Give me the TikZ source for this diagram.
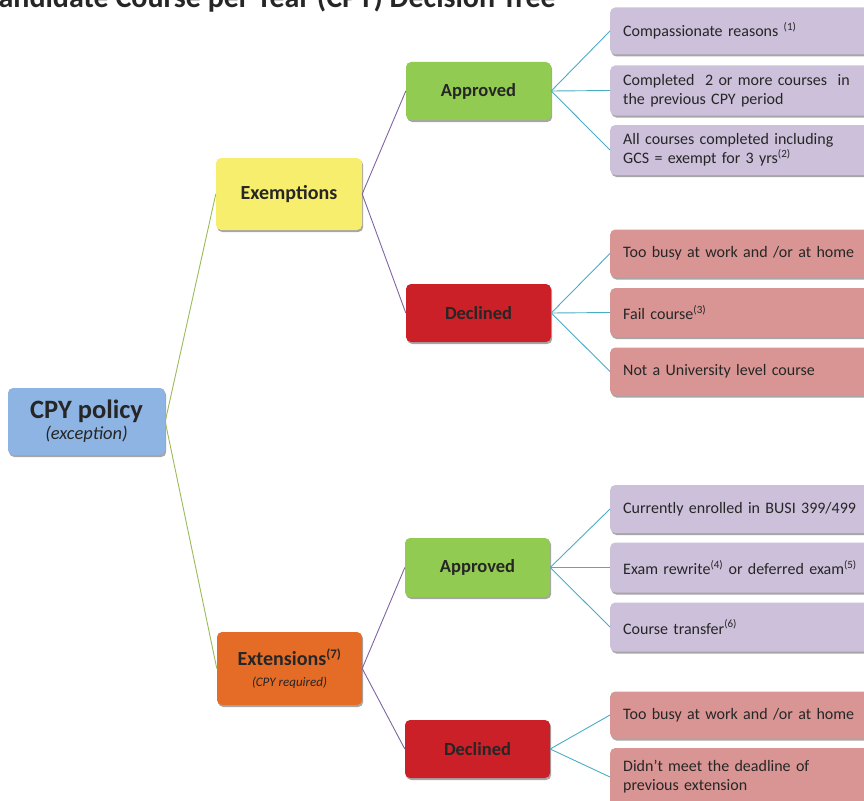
\documentclass[tikz,border=0pt]{standalone}
\usepackage{fontspec}
\setmainfont{Carlito}
\usetikzlibrary{shadows}
\definecolor{cblue}{HTML}{8EB4E3}
\definecolor{cyellow}{HTML}{F6EE6C}
\definecolor{corange}{HTML}{E46C26}
\definecolor{cgreen}{HTML}{92CB52}
\definecolor{cred}{HTML}{CB2027}
\definecolor{cpurple}{HTML}{CCC0DA}
\definecolor{cpink}{HTML}{D99594}
\definecolor{lgreen}{HTML}{9BBB59}
\definecolor{lpurple}{HTML}{8064A2}
\definecolor{lteal}{HTML}{4BACC6}
\definecolor{ctext}{HTML}{262626}
\tikzset{
  box/.style={rounded corners=5pt, inner sep=0pt, text=ctext, align=center,
    drop shadow={shadow xshift=1.2pt, shadow yshift=-2pt, opacity=0.35, fill=black}},
  mid/.style={box, minimum width=145pt, minimum height=58pt, font=\fontsize{18.5}{22}\selectfont\bfseries},
  leaf/.style={box, anchor=west, align=left, text width=320pt, inner xsep=13pt,
    font=\fontsize{16}{19}\selectfont},
  pleaf/.style={leaf, fill=cpurple},
  rleaf/.style={leaf, fill=cpink},
  gline/.style={draw=lgreen, line width=0.9pt},
  pline/.style={draw=lpurple, line width=0.9pt},
  tline/.style={draw=lteal, line width=0.9pt},
}
\newcommand{\sx}[1]{\textsuperscript{\fontsize{11}{11}\selectfont #1}}
\begin{document}
\begin{tikzpicture}[x=1pt, y=-1pt]
\useasboundingbox (0,0) rectangle (864,800);
\clip (0,0) rectangle (864,800);

\node[anchor=base east, font=\fontsize{30}{34}\selectfont\bfseries, text=ctext, inner sep=0pt] (title) at (556,8) {Candidate Course per Year (CPY) Decision Tree};

\node[box, fill=cblue, minimum width=157pt, minimum height=67pt] (cpy) at (86.5,421.5)
  {{\fontsize{26.5}{28}\selectfont\bfseries CPY policy}\\[2pt]{\fontsize{18.5}{20}\selectfont\itshape (exception)}};

\node[box, fill=cyellow, minimum width=146pt, minimum height=72pt, font=\fontsize{20}{23}\selectfont\bfseries] (exm) at (289,194) {Exemptions};
\node[box, fill=corange, minimum width=145pt, minimum height=73pt] (ext) at (289.5,668.5)
  {{\fontsize{20}{23}\selectfont\bfseries Extensions\textsuperscript{\fontsize{13}{13}\selectfont (7)}}\\[9pt]{\fontsize{13}{15}\selectfont\itshape (CPY required)}};

\node[mid, fill=cgreen] (ap1) at (478.5,91) {Approved};
\node[mid, fill=cred] (de1) at (478.5,313) {Declined};
\node[mid, fill=cgreen, minimum height=59pt] (ap2) at (477.5,567.5) {Approved};
\node[mid, fill=cred] (de2) at (477.5,749) {Declined};

\node[pleaf, minimum height=47pt] (l1) at (610,31) {Compassionate reasons \sx{(1)}};
\node[pleaf, minimum height=50pt] (l2) at (610,90.5) {Completed~ 2 or more courses~ in\\the previous CPY period};
\node[pleaf, minimum height=50pt] (l3) at (610,150) {All courses completed including\\GCS = exempt for 3 yrs\sx{(2)}};

\node[rleaf, minimum height=48pt] (l4) at (610,253.5) {Too busy at work and /or at home};
\node[rleaf, minimum height=49pt] (l5) at (610,312.5) {Fail course\sx{(3)}};
\node[rleaf, minimum height=48pt] (l6) at (610,371.5) {Not a University level course};

\node[pleaf, minimum height=48pt] (l7) at (610,509) {Currently enrolled in BUSI 399/499};
\node[pleaf, minimum height=50pt] (l8) at (610,567.5) {Exam rewrite\sx{(4)} or deferred exam\sx{(5)}};
\node[pleaf, minimum height=49pt] (l9) at (610,627) {Course transfer\sx{(6)}};

\node[rleaf, minimum height=47pt] (l10) at (610,715) {Too busy at work and /or at home};
\node[rleaf, minimum height=58pt] (l11) at (610,777) {Didn't meet the deadline of\\previous extension};

\draw[gline] (cpy.east) -- (exm.west);
\draw[gline] (cpy.east) -- (ext.west);
\draw[pline] (exm.east) -- (ap1.west);
\draw[pline] (exm.east) -- (de1.west);
\draw[pline] (ext.east) -- (ap2.west);
\draw[pline] (ext.east) -- (de2.west);
\foreach \a/\b in {ap1/l1, ap1/l2, ap1/l3, de1/l4, de1/l5, de1/l6, ap2/l7, ap2/l8, ap2/l9, de2/l10, de2/l11}
  \draw[tline] (\a.east) -- (\b.west);
\end{tikzpicture}
\end{document}
